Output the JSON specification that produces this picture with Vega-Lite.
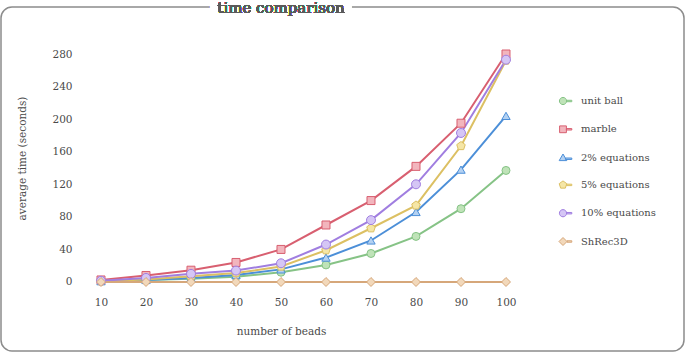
{
  "$schema": "https://vega.github.io/schema/vega-lite/v6.json",
  "width": 683,
  "height": 344,
  "autosize": {"type": "none"},
  "padding": {"left": 1, "top": 7, "right": 2, "bottom": 2},
  "background": "white",
  "config": {
    "view": {"stroke": "#8c8c8c", "strokeWidth": 1.5, "cornerRadius": 11},
    "font": "DejaVu Serif"
  },
  "data": {
    "values": [
      {"beads": 10, "series": "unit ball", "time": 1},
      {"beads": 20, "series": "unit ball", "time": 2.5},
      {"beads": 30, "series": "unit ball", "time": 4},
      {"beads": 40, "series": "unit ball", "time": 6.5},
      {"beads": 50, "series": "unit ball", "time": 12},
      {"beads": 60, "series": "unit ball", "time": 21},
      {"beads": 70, "series": "unit ball", "time": 35},
      {"beads": 80, "series": "unit ball", "time": 56},
      {"beads": 90, "series": "unit ball", "time": 90},
      {"beads": 100, "series": "unit ball", "time": 137},
      {"beads": 10, "series": "marble", "time": 2.5},
      {"beads": 20, "series": "marble", "time": 8},
      {"beads": 30, "series": "marble", "time": 14.5},
      {"beads": 40, "series": "marble", "time": 24},
      {"beads": 50, "series": "marble", "time": 40},
      {"beads": 60, "series": "marble", "time": 70},
      {"beads": 70, "series": "marble", "time": 100},
      {"beads": 80, "series": "marble", "time": 142},
      {"beads": 90, "series": "marble", "time": 195},
      {"beads": 100, "series": "marble", "time": 280},
      {"beads": 10, "series": "2% equations", "time": 1},
      {"beads": 20, "series": "2% equations", "time": 2.5},
      {"beads": 30, "series": "2% equations", "time": 5},
      {"beads": 40, "series": "2% equations", "time": 8.5},
      {"beads": 50, "series": "2% equations", "time": 15.5},
      {"beads": 60, "series": "2% equations", "time": 30},
      {"beads": 70, "series": "2% equations", "time": 51},
      {"beads": 80, "series": "2% equations", "time": 86},
      {"beads": 90, "series": "2% equations", "time": 138},
      {"beads": 100, "series": "2% equations", "time": 204},
      {"beads": 10, "series": "5% equations", "time": 1},
      {"beads": 20, "series": "5% equations", "time": 3},
      {"beads": 30, "series": "5% equations", "time": 7},
      {"beads": 40, "series": "5% equations", "time": 11},
      {"beads": 50, "series": "5% equations", "time": 19},
      {"beads": 60, "series": "5% equations", "time": 39},
      {"beads": 70, "series": "5% equations", "time": 66},
      {"beads": 80, "series": "5% equations", "time": 94},
      {"beads": 90, "series": "5% equations", "time": 167},
      {"beads": 100, "series": "5% equations", "time": 272},
      {"beads": 10, "series": "10% equations", "time": 1.5},
      {"beads": 20, "series": "10% equations", "time": 5},
      {"beads": 30, "series": "10% equations", "time": 10},
      {"beads": 40, "series": "10% equations", "time": 14},
      {"beads": 50, "series": "10% equations", "time": 23},
      {"beads": 60, "series": "10% equations", "time": 46},
      {"beads": 70, "series": "10% equations", "time": 76},
      {"beads": 80, "series": "10% equations", "time": 120},
      {"beads": 90, "series": "10% equations", "time": 183},
      {"beads": 100, "series": "10% equations", "time": 273},
      {"beads": 10, "series": "ShRec3D", "time": 0},
      {"beads": 20, "series": "ShRec3D", "time": 0},
      {"beads": 30, "series": "ShRec3D", "time": 0},
      {"beads": 40, "series": "ShRec3D", "time": 0},
      {"beads": 50, "series": "ShRec3D", "time": 0},
      {"beads": 60, "series": "ShRec3D", "time": 0},
      {"beads": 70, "series": "ShRec3D", "time": 0},
      {"beads": 80, "series": "ShRec3D", "time": 0},
      {"beads": 90, "series": "ShRec3D", "time": 0},
      {"beads": 100, "series": "ShRec3D", "time": 0}
    ]
  },
  "encoding": {
    "x": {
      "field": "beads", "type": "quantitative",
      "scale": {"domain": [-12.222, 139.556], "nice": false, "zero": false},
      "axis": {
        "values": [10, 20, 30, 40, 50, 60, 70, 80, 90, 100],
        "title": "number of beads",
        "grid": false, "domain": false, "ticks": false,
        "offset": -54, "labelPadding": 0, "labelBaseline": "top",
        "labelFont": "DejaVu Serif", "labelFontSize": 10.5, "labelColor": "#4a4a4a",
        "titleFont": "DejaVu Serif", "titleFontSize": 10.5, "titleFontWeight": "normal", "titleColor": "#4a4a4a",
        "titleX": 280, "titleY": 34, "titleBaseline": "middle", "titleAlign": "center"
      }
    },
    "y": {
      "field": "time", "type": "quantitative",
      "scale": {"domain": [-84.74, 337.72], "nice": false, "zero": false},
      "axis": {
        "values": [0, 40, 80, 120, 160, 200, 240, 280],
        "title": "average time (seconds)",
        "grid": false, "domain": false, "ticks": false,
        "offset": -71, "labelPadding": 0,
        "labelFont": "DejaVu Serif", "labelFontSize": 10.5, "labelColor": "#4a4a4a",
        "titleFont": "DejaVu Serif", "titleFontSize": 10.5, "titleFontWeight": "normal", "titleColor": "#4a4a4a",
        "titleX": -50, "titleY": 151, "titleBaseline": "middle", "titleAlign": "center", "titleAngle": -90
      }
    },
    "stroke": {
      "field": "series", "type": "nominal",
      "scale": {
        "domain": ["unit ball", "marble", "2% equations", "5% equations", "10% equations", "ShRec3D"],
        "range": ["#86c386", "#d85f70", "#4c8fd8", "#dcc063", "#a07ee0", "#d6a77a"]
      },
      "legend": {
        "orient": "none", "legendX": 557, "legendY": 89, "title": null,
        "rowPadding": 16.3, "labelFont": "DejaVu Serif", "labelFontSize": 10, "labelColor": "#4a4a4a",
        "symbolSize": 64, "symbolStrokeWidth": 1, "labelOffset": 13
      }
    }
  },
  "layer": [
    {
      "data": {"values": [{"time": 0}, {"time": 40}, {"time": 80}, {"time": 120}, {"time": 160}, {"time": 200}, {"time": 240}, {"time": 280}]},
      "mark": {"type": "rule", "color": "#eeeeee", "strokeWidth": 1},
      "encoding": {
        "x": {"datum": 5, "type": "quantitative"},
        "x2": {"datum": 105},
        "stroke": {"value": "#eeeeee"}
      }
    },
    {
      "mark": {"type": "line", "strokeWidth": 2}
    },
    {
      "transform": [{"filter": {"field": "series", "equal": "unit ball"}}],
      "mark": {"type": "point", "shape": "circle", "size": 64, "strokeWidth": 1, "opacity": 1, "fill": "#bfe3b8"}
    },
    {
      "transform": [{"filter": {"field": "series", "equal": "marble"}}],
      "mark": {"type": "point", "shape": "square", "size": 64, "strokeWidth": 1, "opacity": 1, "fill": "#f2b5bd"}
    },
    {
      "transform": [{"filter": {"field": "series", "equal": "2% equations"}}],
      "mark": {"type": "point", "shape": "triangle-up", "size": 70, "strokeWidth": 1, "opacity": 1, "fill": "#b3d1f2"}
    },
    {
      "transform": [{"filter": {"field": "series", "equal": "5% equations"}}],
      "mark": {"type": "point", "shape": "M0,-1L0.951,-0.309L0.588,0.809L-0.588,0.809L-0.951,-0.309Z", "size": 80, "strokeWidth": 1, "opacity": 1, "fill": "#f5e6a6"}
    },
    {
      "transform": [{"filter": {"field": "series", "equal": "10% equations"}}],
      "mark": {"type": "point", "shape": "circle", "size": 80, "strokeWidth": 1, "opacity": 1, "fill": "#d5c6f5"}
    },
    {
      "transform": [{"filter": {"field": "series", "equal": "ShRec3D"}}],
      "mark": {"type": "point", "shape": "diamond", "size": 80, "strokeWidth": 1, "opacity": 1, "fill": "#f2d8ba"}
    },
    {
      "transform": [{"filter": {"field": "time", "lt": -1000}}],
      "mark": {"type": "point", "size": 64, "strokeWidth": 1, "opacity": 1, "filled": true},
      "encoding": {
        "fill": {
          "field": "series", "type": "nominal",
          "scale": {
            "domain": ["unit ball", "marble", "2% equations", "5% equations", "10% equations", "ShRec3D"],
            "range": ["#bfe3b8", "#f2b5bd", "#b3d1f2", "#f5e6a6", "#d5c6f5", "#f2d8ba"]
          }
        },
        "shape": {
          "field": "series", "type": "nominal",
          "scale": {
            "domain": ["unit ball", "marble", "2% equations", "5% equations", "10% equations", "ShRec3D"],
            "range": [
              "M-0.9,0A0.9,0.9 0 1,1 0.9,0A0.9,0.9 0 1,1 -0.9,0Z M0.9,-0.18L2.2,-0.18L2.2,0.18L0.9,0.18Z",
              "M-0.85,-0.85L0.85,-0.85L0.85,0.85L-0.85,0.85Z M0.85,-0.18L2.2,-0.18L2.2,0.18L0.85,0.18Z",
              "M0,-0.9L0.95,0.75L-0.95,0.75Z M0.6,0.1L2.2,0.1L2.2,0.46L0.6,0.46Z",
              "M0,-1L0.951,-0.309L0.588,0.809L-0.588,0.809L-0.951,-0.309Z M0.9,-0.18L2.2,-0.18L2.2,0.18L0.9,0.18Z",
              "M-0.9,0A0.9,0.9 0 1,1 0.9,0A0.9,0.9 0 1,1 -0.9,0Z M0.9,-0.18L2.2,-0.18L2.2,0.18L0.9,0.18Z",
              "M0,-1L1,0L0,1L-1,0Z M1,-0.18L2.2,-0.18L2.2,0.18L1,0.18Z"
            ]
          }
        }
      }
    },
    {
      "mark": {"type": "text", "text": "time comparison", "font": "DejaVu Serif", "fontSize": 15, "fill": "white", "stroke": "white", "strokeWidth": 14, "baseline": "middle", "align": "center"},
      "encoding": {
        "x": {"datum": 50, "type": "quantitative"},
        "y": {"datum": 337, "type": "quantitative"},
        "stroke": {"value": "white"}
      }
    },
    {
      "mark": {"type": "text", "text": "time comparison", "font": "DejaVu Serif", "fontSize": 15, "fill": "#5a5a5a", "baseline": "middle", "align": "center"},
      "encoding": {
        "x": {"datum": 50, "type": "quantitative"},
        "y": {"datum": 337, "type": "quantitative"},
        "stroke": {"value": null}
      }
    }
  ]
}
